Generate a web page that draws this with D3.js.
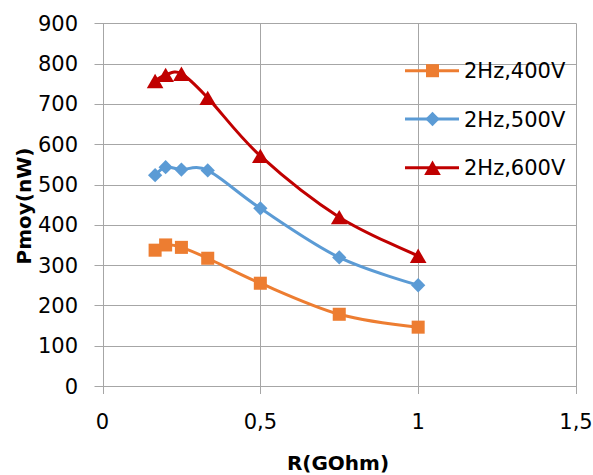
<!DOCTYPE html>
<html><head><meta charset="utf-8">
<script src="https://cdn.jsdelivr.net/npm/d3@7"></script>
<style>body{margin:0;background:#fff;} svg{display:block;font-family:"DejaVu Sans",sans-serif;}</style>
</head><body>
<script>
const rValues = [1/6, 0.2, 0.25, 1/3, 0.5, 0.75, 1];
const p400 = [337, 350, 344, 317, 255, 178, 146];
const p500 = [523, 543, 537, 535, 441, 319, 250];
const p600 = [757, 772, 775, 715, 571, 419, 323];
const seriesNames = ["2Hz,400V", "2Hz,500V", "2Hz,600V"];
const seriesColors = ["#ED7D31", "#5B9BD5", "#C00000"];
const seriesSymbols = [d3.symbolSquare, d3.symbolDiamond2, d3.symbolTriangle];
const xTicks = [0, 0.5, 1, 1.5];
const xTickLabels = ["0", "0,5", "1", "1,5"];
const yTicks = [0,100,200,300,400,500,600,700,800,900];

const W = 593, H = 475;
const svg = d3.select("body").append("svg").attr("width", W).attr("height", H);
const x = d3.scaleLinear().domain([0, 1.5]).range([102.5, 576]);
const y = d3.scaleLinear().domain([0, 900]).range([386, 23.3]);

// gridlines
const g = svg.append("g");
g.selectAll("line.h").data(yTicks).enter().append("line")
  .attr("x1", x(0) - 8).attr("x2", x(1.5)).attr("y1", d => Math.round(y(d)) + 0.5).attr("y2", d => Math.round(y(d)) + 0.5)
  .attr("stroke", "#a6a6a6").attr("stroke-width", 1);
g.selectAll("line.v").data(xTicks).enter().append("line")
  .attr("y1", y(900)).attr("y2", y(0) + 8).attr("x1", d => Math.round(x(d)) + 0.5).attr("x2", d => Math.round(x(d)) + 0.5)
  .attr("stroke", "#a6a6a6").attr("stroke-width", 1);

// tick labels
g.selectAll("text.y").data(yTicks).enter().append("text")
  .attr("x", 78).attr("y", d => y(d)).attr("dy", "0.36em").attr("text-anchor", "end")
  .attr("font-size", 21).attr("fill", "#000").text(d => d);
g.selectAll("text.x").data(xTicks).enter().append("text")
  .attr("x", d => x(d)).attr("y", 429).attr("text-anchor", "middle")
  .attr("font-size", 21).attr("fill", "#000").text((d, i) => xTickLabels[i]);

// axis titles
svg.append("text").attr("x", 338).attr("y", 470).attr("text-anchor", "middle")
  .attr("font-size", 20).attr("font-weight", "bold").text("R(GOhm)");
svg.append("text").attr("transform", "translate(31,206) rotate(-90)").attr("text-anchor", "middle")
  .attr("font-size", 20).attr("font-weight", "bold").text("Pmoy(nW)");

const allSeries = [p400, p500, p600];
const line = d3.line().x(d => x(d[0])).y(d => y(d[1])).curve(d3.curveCardinal.tension(0));
const symSizes = [170, 130, 120];
const symDy = [0, 0, 2.4];
allSeries.forEach((vals, i) => {
  const pts = rValues.map((r, j) => [r, vals[j]]);
  svg.append("path").attr("d", line(pts)).attr("fill", "none")
    .attr("stroke", seriesColors[i]).attr("stroke-width", 3);
  svg.selectAll(null).data(pts).enter().append("path")
    .attr("d", d3.symbol().type(seriesSymbols[i]).size(symSizes[i]))
    .attr("transform", d => `translate(${x(d[0])},${y(d[1]) + symDy[i]})`)
    .attr("fill", seriesColors[i]);
});

// legend
const legY = [70.7, 119, 167.7];
seriesNames.forEach((name, i) => {
  const lg = svg.append("g");
  lg.append("line").attr("x1", 405).attr("x2", 459).attr("y1", legY[i]).attr("y2", legY[i])
    .attr("stroke", seriesColors[i]).attr("stroke-width", 3);
  lg.append("path").attr("d", d3.symbol().type(seriesSymbols[i]).size(symSizes[i]))
    .attr("transform", `translate(432.5,${legY[i] + symDy[i]})`).attr("fill", seriesColors[i]);
  lg.append("text").attr("x", 464).attr("y", legY[i]).attr("dy", "0.36em")
    .attr("font-size", 21).attr("fill", "#000").text(name);
});
</script>
</body></html>
